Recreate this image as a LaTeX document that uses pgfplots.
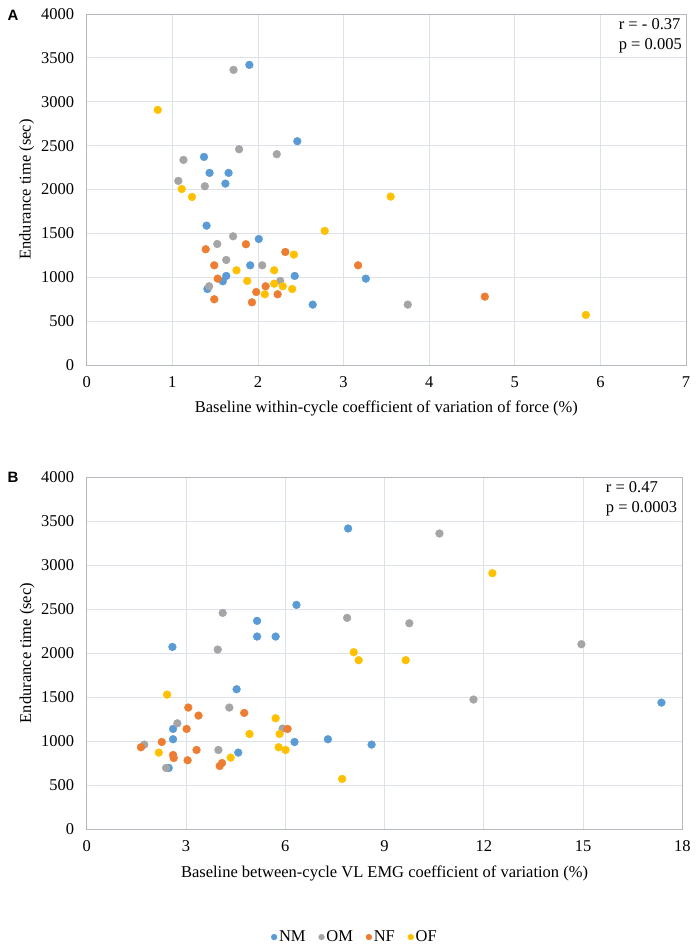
\documentclass[border=0pt]{standalone}
\usepackage{fontspec}
\setmainfont{Liberation Serif}
\newfontfamily\panelfont{Liberation Sans}
\usepackage{pgfplots}
\pgfplotsset{compat=1.18}
\definecolor{cNM}{HTML}{5B9BD5}
\definecolor{cOM}{HTML}{A5A5A5}
\definecolor{cNF}{HTML}{ED7D31}
\definecolor{cOF}{HTML}{FFC000}
\definecolor{gridc}{HTML}{DDE2EA}
\definecolor{framec}{HTML}{B4B8BF}
\pgfplotsset{
  myax/.style={
    scale only axis,
    anchor=south west,
    font=\fontsize{16.5}{19}\selectfont,
    ymin=0, ymax=4000, ytick={0,500,...,4000},
    ylabel={Endurance time (sec)},
    grid=major,
    major grid style={color=gridc, line width=0.8pt},
    axis line style={color=framec, line width=0.9pt},
    major tick length=0pt,
    /pgf/number format/assume math mode=true,
    /pgf/number format/1000 sep={},
    yticklabel style={xshift=-9pt},
    xticklabel style={yshift=-8pt},
    every axis x label/.style={at={(axis description cs:0.5,-0.125)},anchor=center},
    every axis y label/.style={at={(axis description cs:-0.100,0.5)},rotate=90,anchor=center},
    clip=false,
  },
  mk/.style={only marks, mark=*, mark size=3.9pt, mark options={draw=#1, fill=#1}, color=#1},
}
\begin{document}
\begin{tikzpicture}[x=1pt,y=1pt]
\path[use as bounding box] (0,0) rectangle (700,950);
\begin{axis}[myax, at={(86.7pt,585pt)}, width=599.3pt, height=351pt,
  xmin=0, xmax=7, xtick={0,1,...,7},
  xlabel={Baseline within-cycle coefficient of variation of force (\%)}]
\addplot[mk=cNM] coordinates {(1.90,3420)(2.46,2550)(1.37,2371)(1.435,2189)(1.657,2189)(1.62,2067)(1.40,1588)(2.01,1436)(1.91,1136)(1.63,1015)(2.43,1015)(1.59,954)(3.26,984)(1.41,866)(2.64,688)};
\addplot[mk=cOM] coordinates {(1.715,3363)(1.78,2459)(2.22,2402)(1.13,2337)(1.07,2098)(1.38,2037)(1.71,1467)(1.525,1379)(1.63,1197)(2.05,1136)(2.26,958)(1.43,897)(3.75,688)};
\addplot[mk=cNF] coordinates {(1.86,1376)(1.39,1319)(2.32,1288)(1.49,1136)(3.17,1136)(1.53,984)(2.09,897)(1.98,832)(2.23,806)(1.49,749)(1.93,714)(4.65,779)};
\addplot[mk=cOF] coordinates {(0.83,2907)(1.11,2006)(1.23,1915)(3.55,1919)(2.78,1528)(2.42,1258)(1.75,1079)(2.19,1079)(1.875,958)(2.19,927)(2.29,897)(2.08,806)(2.40,866)(5.83,570)};
\node[anchor=north east, align=left, inner sep=0pt, font=\fontsize{16.5}{20}\selectfont] at ([xshift=-4pt,yshift=-4pt]rel axis cs:1,1) {r = - 0.37\\p = 0.005};
\end{axis}
\begin{axis}[myax, at={(86.7pt,121pt)}, width=595.6pt, height=352pt,
  xmin=0, xmax=18, xtick={0,3,...,18},
  xlabel={Baseline between-cycle VL EMG coefficient of variation (\%)},
  legend columns=4,
  legend style={at={(0.4505,-0.307)}, anchor=center, draw=none, font=\fontsize{16.5}{19}\selectfont,
    /tikz/every even column/.append style={column sep=11pt}},
  legend image code/.code={\draw[#1,mark size=2.9pt] plot coordinates {(0pt,0pt)};},
  ]
\addplot[mk=cNM] coordinates {(7.90,3415)(6.34,2547)(5.15,2365)(5.15,2187)(5.71,2187)(2.59,2069)(4.53,1588)(17.37,1436)(2.61,1137)(2.61,1020)(6.28,989)(7.29,1020)(8.61,959)(4.58,868)(2.48,694)};
\addplot[mk=cOM] coordinates {(10.66,3358)(4.11,2456)(7.87,2399)(9.75,2338)(14.95,2100)(3.96,2039)(11.69,1471)(4.31,1380)(2.74,1201)(5.92,1141)(1.74,959)(3.98,898)(2.40,694)};
\addplot[mk=cNF] coordinates {(3.07,1380)(4.76,1319)(3.38,1289)(3.02,1137)(6.07,1137)(2.27,989)(1.64,929)(3.32,898)(2.61,841)(2.63,807)(3.05,781)(4.09,750)(4.02,716)};
\addplot[mk=cOF] coordinates {(12.26,2907)(8.07,2009)(8.22,1918)(9.64,1918)(2.43,1527)(5.71,1258)(4.92,1080)(5.83,1080)(5.80,929)(6.01,898)(2.18,868)(4.35,811)(7.72,569)};
\legend{NM,OM,NF,OF}
\node[anchor=north east, align=left, inner sep=0pt, font=\fontsize{16.5}{20}\selectfont] at ([xshift=-5pt,yshift=-4pt]rel axis cs:1,1) {r = 0.47\\p = 0.0003};
\end{axis}
\node[font=\panelfont\bfseries\fontsize{15}{18}\selectfont] at (13,935) {A};
\node[font=\panelfont\bfseries\fontsize{15}{18}\selectfont] at (13,473) {B};
\end{tikzpicture}
\end{document}
